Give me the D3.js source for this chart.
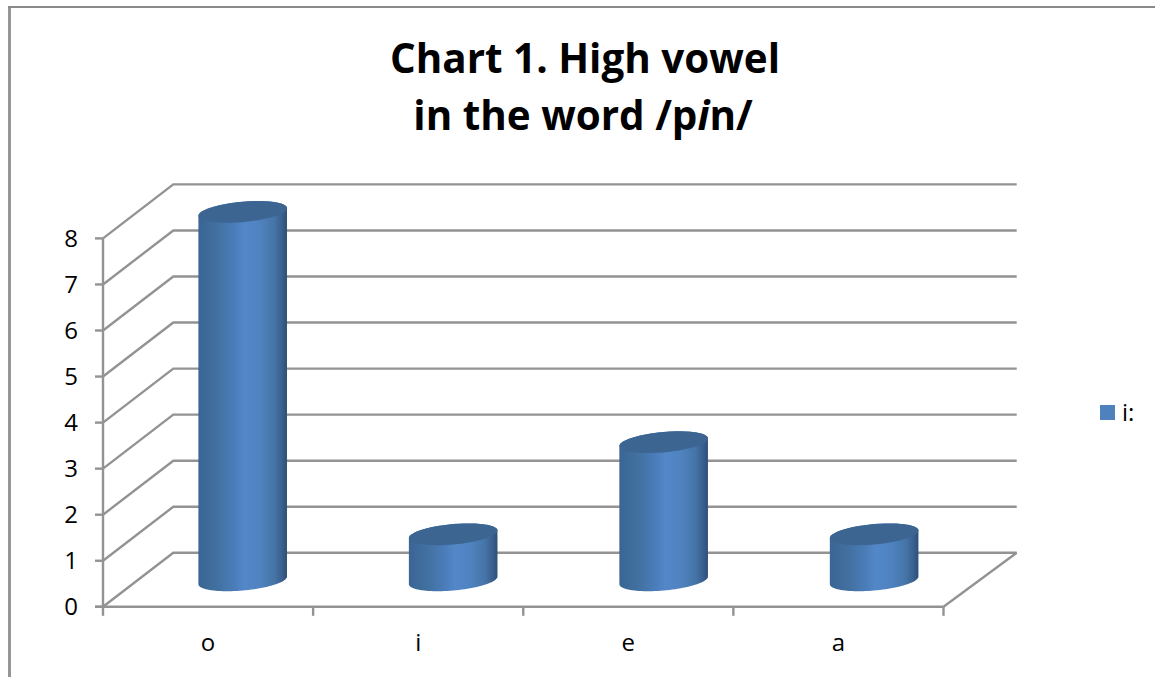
<!DOCTYPE html>
<html>
<head>
<meta charset="utf-8">
<script src="https://cdn.jsdelivr.net/npm/d3@7"></script>
<style>
  html, body { margin: 0; padding: 0; background: #fff; overflow: hidden; }
  text { font-family: "Open Sans", Lato, sans-serif; fill: #000; }
  .label { font-size: 24px; }
  .title { font-weight: 700; font-size: 40.4px; text-anchor: middle; }
</style>
</head>
<body>
<svg id="chart" width="1155" height="677"></svg>
<script>
// Chart content
const categories = ["o", "i", "e", "a"];
const values = [8, 1, 3, 1];
const yTicks = [0, 1, 2, 3, 4, 5, 6, 7, 8];
const seriesName = "i:";

const svg = d3.select("#chart");

// Outer frame of the chart area
svg.append("path").attr("d", "M9.5,677V7")
  .attr("fill", "none").attr("stroke", "#969696").attr("stroke-width", 3);
svg.append("path").attr("d", "M8,7H1155")
  .attr("fill", "none").attr("stroke", "#8a8a8a").attr("stroke-width", 2);

// Front plane scales, and the back wall they are carried onto by the depth shift
const x = d3.scaleBand().domain(categories).range([103, 943.5]);
const y = d3.scaleLinear().domain([0, 8]).range([606.8, 238.4]);
const backX = d3.scaleLinear().domain(x.range()).range([173.3, 1016.7]);
const backDy = -54;
const project = (px, py, d) => [px + d * (backX(px) - px), py + d * backDy];

const gridColor = "#939393";
const gridWidth = 2.4;

// Back wall gridlines and the matching diagonals on the side wall
const grid = svg.append("g").attr("fill", "none").attr("stroke", gridColor).attr("stroke-width", gridWidth);
yTicks.forEach(t => {
  const f = project(x.range()[0], y(t), 0);
  const b = project(x.range()[0], y(t), 1);
  const r = project(x.range()[1], y(t), 1);
  grid.append("path").attr("d", d3.line()([f, b, r]));
});
// Right edge of the floor
grid.append("path").attr("d", d3.line()([
  project(x.range()[1], y(0), 0),
  project(x.range()[1], y(0), 1)
]));

// Value axis
const axes = svg.append("g").attr("fill", "none").attr("stroke", gridColor).attr("stroke-width", gridWidth);
axes.append("line").attr("x1", x.range()[0]).attr("x2", x.range()[0]).attr("y1", y(8)).attr("y2", y(0));
yTicks.forEach(t => {
  axes.append("line").attr("x1", 95).attr("x2", x.range()[0]).attr("y1", y(t)).attr("y2", y(t));
  svg.append("text").attr("class", "label").attr("x", 78).attr("y", y(t)).attr("dy", "0.36em")
    .attr("text-anchor", "end").text(t);
});

// Category axis
axes.append("line").attr("x1", x.range()[0] - 8).attr("x2", x.range()[1]).attr("y1", y(0)).attr("y2", y(0));
categories.map(c => x(c)).concat(x.range()[1]).forEach(e => {
  axes.append("line").attr("x1", e).attr("x2", e).attr("y1", y(0)).attr("y2", y(0) + 9);
});
categories.forEach(c => {
  svg.append("text").attr("class", "label").attr("x", x(c) + x.bandwidth() / 2).attr("y", 651)
    .attr("text-anchor", "middle").text(c);
});

// Cylinder shading, darkest at the edges and brightest down the middle
const shade = svg.append("defs").append("linearGradient").attr("id", "cyl");
[[0, "#3a6595"], [0.2, "#41709f"], [0.4, "#4a7cb8"], [0.52, "#5287c9"], [0.7, "#4f82bf"], [0.86, "#4574a6"], [0.94, "#3a6190"], [1, "#2e4f78"]]
  .forEach(([o, c]) => shade.append("stop").attr("offset", o).attr("stop-color", c));

// Cylinders stand at about the middle of the floor depth
const barDepth = 0.49;
const halfWidth = 44.3, capHalfHeight = 10.2, capTilt = 3.8;
const capPoint = (cx, cy, t) => [
  cx + halfWidth * Math.cos(t),
  cy - capTilt * Math.cos(t) + capHalfHeight * Math.sin(t)
];
const arc = (cx, cy, from, to) => d3.range(0, 49).map(k => capPoint(cx, cy, from + (to - from) * k / 48));

values.forEach((v, i) => {
  const c = categories[i];
  const [cx, base] = project(x(c) + x.bandwidth() / 2, y(0), barDepth);
  const top = base - (y(0) - y(v));
  // Body: lower half of the base ellipse, up the side, back across the top
  svg.append("path")
    .attr("d", d3.line()(arc(cx, base, Math.PI, 0).concat(arc(cx, top, 0, -Math.PI))) + "Z")
    .attr("fill", "url(#cyl)");
  svg.append("path")
    .attr("d", d3.line()(arc(cx, top, 0, 2 * Math.PI)) + "Z")
    .attr("fill", "#3d6592");
});

// Legend
svg.append("rect").attr("x", 1100).attr("y", 405).attr("width", 15).attr("height", 15).attr("fill", "#4f81bd");
svg.append("text").attr("class", "label").attr("x", 1122).attr("y", 421).text(seriesName);

// Two-line title with the italic vowel
svg.append("text").attr("class", "title").attr("x", 585).attr("y", 72.5).text("Chart 1. High vowel");
const second = svg.append("text").attr("class", "title").attr("x", 583).attr("y", 130);
second.append("tspan").text("in the word /p");
second.append("tspan").attr("font-style", "italic").text("i");
second.append("tspan").text("n/");
</script>
</body>
</html>
